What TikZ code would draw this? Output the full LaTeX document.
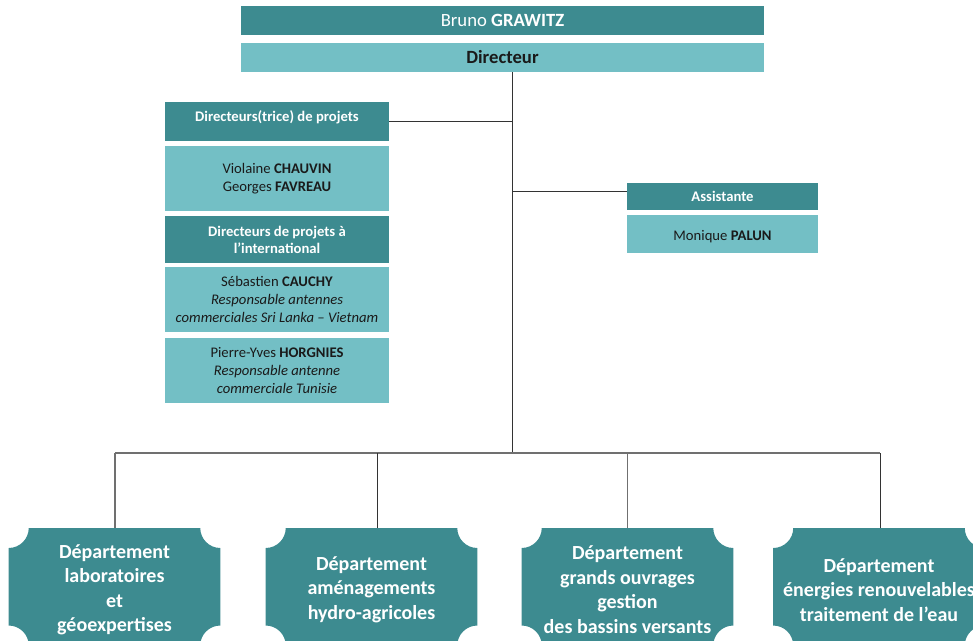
\documentclass[tikz,border=0pt]{standalone}
\usepackage{fontspec}
\setmainfont{Carlito}
\usetikzlibrary{calc,backgrounds}
\definecolor{tealdark}{RGB}{61,139,144}
\definecolor{teallight}{RGB}{115,191,197}
\definecolor{txtdark}{RGB}{26,26,26}
\definecolor{linegray}{RGB}{112,112,112}
\begin{document}
\begin{tikzpicture}[x=0.75pt,y=-0.75pt,
  box/.style={rectangle, inner sep=0pt, align=center, minimum width=168pt},
  darkbox/.style={box, fill=tealdark, text=white, font=\fontsize{11}{12.8}\selectfont\bfseries},
  lightbox/.style={box, fill=teallight, text=txtdark, font=\fontsize{11}{13.3}\selectfont},
  dept/.style={rectangle, inner sep=0pt, minimum width=158.25pt, minimum height=92.25pt,
    align=center, text=white, font=\fontsize{15}{18.4}\selectfont\bfseries, anchor=north},
  conn/.style={draw=black!80, line width=0.75pt},
  barline/.style={draw=linegray, line width=1.1pt},
]
\useasboundingbox (0,0) rectangle (973,641);

% top
\node[box, minimum width=392.25pt, minimum height=21.75pt, fill=tealdark, text=white,
  font=\fontsize{14}{16.8}\selectfont] (bg) at (502.5,20.5) {Bruno \textbf{GRAWITZ}};
\node[box, minimum width=392.25pt, minimum height=21.75pt, fill=teallight, text=txtdark,
  font=\fontsize{14}{16.8}\selectfont\bfseries] (dir) at (502.5,57.5) {Directeur};

% left column
\node[darkbox, minimum height=29.25pt, text height=7pt, text depth=7pt] (dp) at (277,121.5) {Directeurs(trice) de projets};
\node[lightbox, minimum height=48.75pt] (vc) at (277,178.5) {Violaine \textbf{CHAUVIN}\\ Georges \textbf{FAVREAU}};
\node[darkbox, minimum height=35.25pt] (di) at (277,239.5) {Directeurs de projets à\\ l’international};
\node[lightbox, minimum height=48.75pt] (sc) at (277,299.5) {Sébastien \textbf{CAUCHY}\\ \textit{Responsable antennes}\\ \textit{commerciales Sri Lanka – Vietnam}};
\node[lightbox, minimum height=48.75pt] (ph) at (277,370.5) {Pierre-Yves \textbf{HORGNIES}\\ \textit{Responsable antenne}\\ \textit{commerciale Tunisie}};

% right column
\node[darkbox, minimum width=143.25pt, minimum height=20.25pt] (as) at (722.5,196.5) {Assistante};
\node[lightbox, minimum width=143.25pt, minimum height=28.5pt, text height=11pt, text depth=1pt] (mp) at (722.5,234) {Monique \textbf{PALUN}};

% departments
\node[dept] (d1) at (114.5,528) {Département\\ laboratoires\\ et\\ géoexpertises};
\node[dept] (d2) at (371.5,528) {Département\\ aménagements\\ hydro-agricoles};
\node[dept] (d3) at (627.5,528) {Département\\ grands ouvrages\\ gestion\\ des bassins versants};
\node[dept] (d4) at (879,528) {Département\\ énergies renouvelables\\ traitement de l’eau};

\begin{scope}[on background layer]
\foreach \dn in {d1,d2,d3,d4}{
  \fill[tealdark] ($(\dn.north west)+(0,20)$) .. controls +(11,0) and +(0,11) .. ($(\dn.north west)+(20,0)$)
    -- ($(\dn.north east)+(-20,0)$) .. controls +(0,11) and +(-11,0) .. ($(\dn.north east)+(0,20)$)
    -- ($(\dn.south east)+(0,-26)$) .. controls +(-11,0) and +(0,-11) .. ($(\dn.south east)+(-20,-6)$)
    -- ($(\dn.south west)+(20,-6)$) .. controls +(0,-11) and +(11,0) .. ($(\dn.south west)+(0,-26)$) -- cycle;
}
\end{scope}

% connectors
\coordinate (mx) at (512,453);
\coordinate (bl) at (115,453);
\coordinate (br) at (880,453);
\coordinate (ja) at (512,192);
\coordinate (t2) at (377,453);
\draw[conn] (dir.south -| mx) -- (mx);
\draw[conn] (dp.east) -- (dp.east -| mx);
\draw[conn] (ja) -- (ja -| as.west);
\draw[barline] (bl) -- (br);
\draw[barline] (bl) -- (bl |- d1.north);
\draw[conn] (t2) -- (t2 |- d2.north);
\draw[barline] (d3.north |- mx) -- (d3.north);
\draw[conn] (br) -- (br |- d4.north);
\end{tikzpicture}
\end{document}
